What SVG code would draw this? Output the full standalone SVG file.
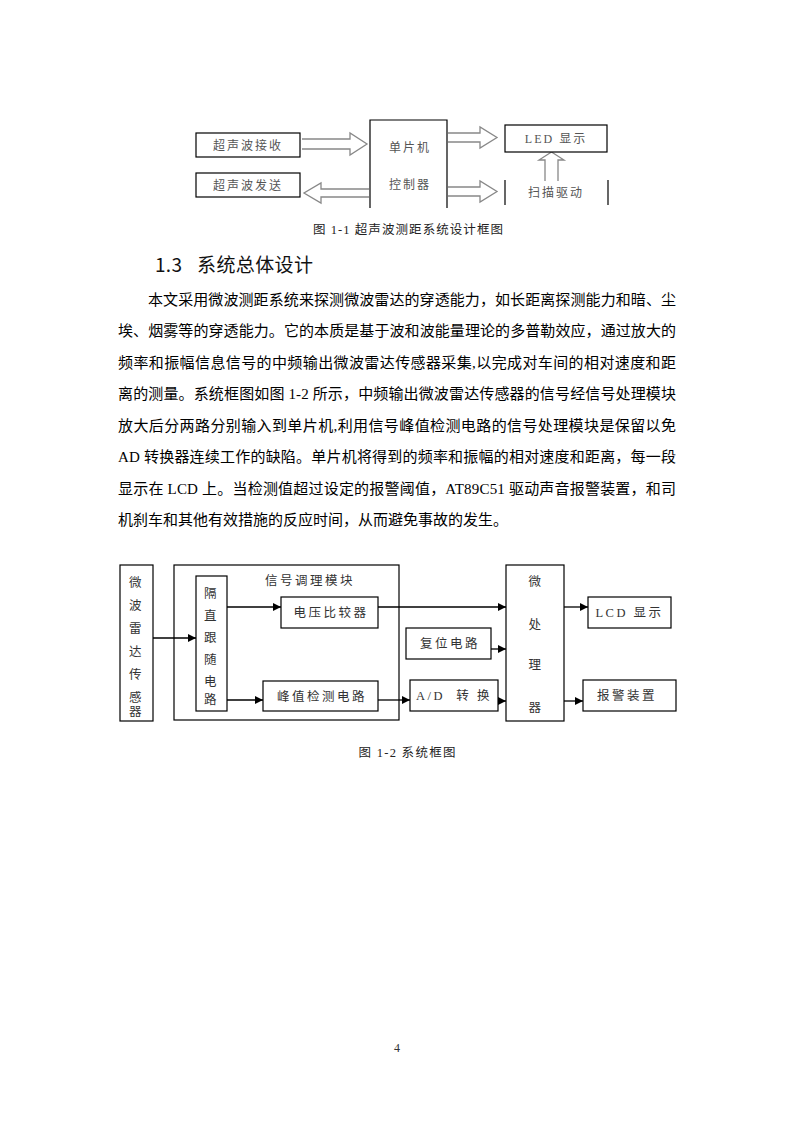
<svg xmlns="http://www.w3.org/2000/svg" width="793" height="1122" viewBox="0 0 793 1122">
<defs>
<marker id="ah" viewBox="0 0 10 10" refX="10" refY="5" markerWidth="8" markerHeight="8" markerUnits="userSpaceOnUse" orient="auto">
<path d="M0,0 L10,5 L0,10 Z" fill="#000"/>
</marker>
<style>
.bx{fill:#fff;stroke:#000;stroke-width:1.2}
.f1t{font-family:"Liberation Serif","Noto Sans CJK SC",serif;font-size:12px;fill:#555;text-anchor:middle;letter-spacing:2px}
.f2t{font-family:"Liberation Serif","Noto Sans CJK SC",serif;font-size:12.5px;fill:#333;text-anchor:middle;letter-spacing:2.5px}
.hol{fill:none;stroke:#888;stroke-width:1.3}
.ln{fill:none;stroke:#000;stroke-width:1.3;marker-end:url(#ah)}
.body{font-family:"Liberation Serif","Noto Sans CJK SC",serif;font-size:15px;fill:#000}
.cap{font-family:"Liberation Serif","Noto Sans CJK SC",serif;font-size:12.5px;fill:#222;text-anchor:middle}
.hd{font-family:"Noto Sans CJK SC","Liberation Sans",sans-serif;font-size:19px;font-weight:400;fill:#111}
</style>
</defs>
<rect width="793" height="1122" fill="#fff"/>

<!-- Figure 1-1 -->
<g id="fig1-connectors">
<path class="hol" d="M302,139 L350,139 L350,133 L367,144 L350,155 L350,149 L302,149"/>
<path class="hol" d="M369,189 L321,189 L321,183 L304,193 L321,203 L321,197 L369,197"/>
<path class="hol" d="M448,133 L480,133 L480,127 L497,137.5 L480,148 L480,142 L448,142"/>
<path class="hol" d="M448,187 L480,187 L480,181 L497,191.5 L480,202 L480,196 L448,196"/>
<path class="hol" d="M545,181 L545,160 L539,160 L551.5,152 L564,160 L558,160 L558,181"/>
</g>
<g id="n-recv">
<rect class="bx" x="196" y="133" width="104" height="24"/>
<text class="f1t" x="248" y="149.5">超声波接收</text>
</g>
<g id="n-send">
<rect class="bx" x="196" y="173" width="104" height="24"/>
<text class="f1t" x="248" y="189.5">超声波发送</text>
</g>
<g id="n-mcu">
<path d="M370,208 L370,120 L447,120 L447,208" fill="#fff" stroke="#000" stroke-width="1.2"/>
<text class="f1t" x="410" y="152">单片机</text>
<text class="f1t" x="410" y="189">控制器</text>
</g>
<g id="n-led">
<rect class="bx" x="505" y="125" width="102" height="27"/>
<text class="f1t" x="556" y="143" letter-spacing="1">LED 显示</text>
</g>
<g id="n-scan">
<line x1="505" y1="180" x2="505" y2="205" stroke="#000" stroke-width="1.2"/>
<line x1="608" y1="180" x2="608" y2="205" stroke="#000" stroke-width="1.2"/>
<text class="f1t" x="556" y="197">扫描驱动</text>
</g>
<text class="cap" x="408" y="233.5" textLength="190" lengthAdjust="spacing">图 1-1 超声波测距系统设计框图</text>

<!-- Heading -->
<text class="hd" x="155" y="272" textLength="27" lengthAdjust="spacing">1.3</text>
<text class="hd" x="197" y="272" textLength="116" lengthAdjust="spacing">系统总体设计</text>

<!-- Body -->
<g class="body">
<text x="148" y="304.5" textLength="528" lengthAdjust="spacing">本文采用微波测距系统来探测微波雷达的穿透能力，如长距离探测能力和暗、尘</text>
<text x="118" y="336" textLength="558" lengthAdjust="spacing">埃、烟雾等的穿透能力。它的本质是基于波和波能量理论的多普勒效应，通过放大的</text>
<text x="118" y="367.5" textLength="558" lengthAdjust="spacing">频率和振幅信息信号的中频输出微波雷达传感器采集,以完成对车间的相对速度和距</text>
<text x="118" y="399" textLength="558" lengthAdjust="spacing">离的测量。系统框图如图 1-2 所示，中频输出微波雷达传感器的信号经信号处理模块</text>
<text x="118" y="430.5" textLength="558" lengthAdjust="spacing">放大后分两路分别输入到单片机,利用信号峰值检测电路的信号处理模块是保留以免</text>
<text x="118" y="462" textLength="558" lengthAdjust="spacing">AD 转换器连续工作的缺陷。单片机将得到的频率和振幅的相对速度和距离，每一段</text>
<text x="118" y="493.5" textLength="558" lengthAdjust="spacing">显示在 LCD 上。当检测值超过设定的报警阈值，AT89C51 驱动声音报警装置，和司</text>
<text x="118" y="525">机刹车和其他有效措施的反应时间，从而避免事故的发生。</text>
</g>

<!-- Figure 1-2 -->
<g id="n-module">
<rect class="bx" x="174" y="565" width="225" height="155"/>
<text class="f2t" x="310" y="585">信号调理模块</text>
</g>
<g id="fig2-connectors">
<line class="ln" x1="153" y1="638" x2="196" y2="638"/>
<line class="ln" x1="227" y1="607" x2="281" y2="607"/>
<line class="ln" x1="227" y1="700" x2="263" y2="700"/>
<line class="ln" x1="378" y1="607" x2="506" y2="607"/>
<line class="ln" x1="378" y1="700" x2="410" y2="700"/>
<line class="ln" x1="491" y1="649" x2="506" y2="649"/>
<line class="ln" x1="498" y1="701" x2="506" y2="701"/>
<line class="ln" x1="564" y1="607" x2="588" y2="607"/>
<line class="ln" x1="562" y1="701" x2="583" y2="701"/>
</g>
<g id="n-sensor">
<rect class="bx" x="120" y="565" width="33" height="156"/>
<g class="f2t">
<text x="136.5" y="587">微</text>
<text x="136.5" y="610">波</text>
<text x="136.5" y="633">雷</text>
<text x="136.5" y="656">达</text>
<text x="136.5" y="679">传</text>
<text x="136.5" y="702">感</text>
<text x="136.5" y="717" dy="-1">器</text>
</g>
</g>
<g id="n-follow">
<rect class="bx" x="196" y="576" width="31" height="135"/>
<g class="f2t">
<text x="211.5" y="598">隔</text>
<text x="211.5" y="620">直</text>
<text x="211.5" y="642">跟</text>
<text x="211.5" y="664">随</text>
<text x="211.5" y="686">电</text>
<text x="211.5" y="707" dy="-3">路</text>
</g>
</g>
<g id="n-comp">
<rect class="bx" x="281" y="597" width="97" height="31"/>
<text class="f2t" x="331" y="617">电压比较器</text>
</g>
<g id="n-peak">
<rect class="bx" x="263" y="681" width="115" height="30"/>
<text class="f2t" x="322" y="701">峰值检测电路</text>
</g>
<g id="n-reset">
<rect class="bx" x="406" y="628" width="85" height="31"/>
<text class="f2t" x="450" y="648">复位电路</text>
</g>
<g id="n-ad">
<rect class="bx" x="410" y="680" width="88" height="31"/>
<text class="f2t" x="454" y="700" letter-spacing="1" xml:space="preserve">A/D  转 换</text>
</g>
<g id="n-cpu">
<rect class="bx" x="506" y="565" width="58" height="156"/>
<g class="f2t">
<text x="536" y="586">微</text>
<text x="536" y="629">处</text>
<text x="536" y="669">理</text>
<text x="536" y="712">器</text>
</g>
</g>
<g id="n-lcd">
<rect class="bx" x="588" y="597" width="83" height="31"/>
<text class="f2t" x="629.5" y="617" letter-spacing="1">LCD 显示</text>
</g>
<g id="n-alarm">
<rect class="bx" x="583" y="680" width="93" height="31"/>
<text class="f2t" x="627" y="700">报警装置</text>
</g>
<text class="cap" x="407" y="756.5" textLength="97" lengthAdjust="spacing">图 1-2 系统框图</text>

<text x="397" y="1051.5" font-family="'Liberation Serif',serif" font-size="12" fill="#333" text-anchor="middle">4</text>
</svg>
